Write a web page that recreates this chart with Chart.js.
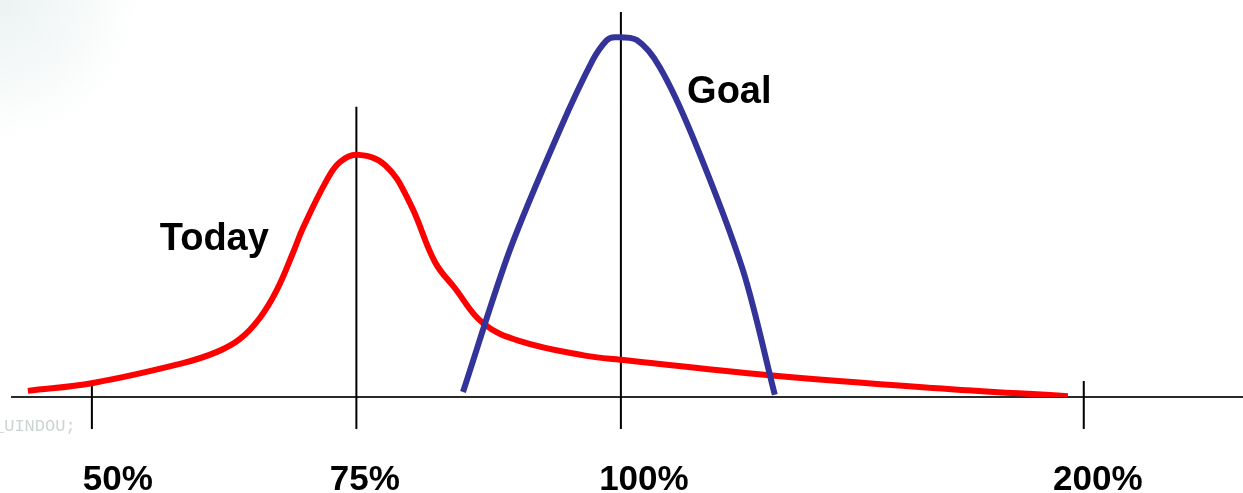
<!DOCTYPE html>
<html>
<head>
<meta charset="utf-8">
<script src="https://cdn.jsdelivr.net/npm/chart.js@4/dist/chart.umd.min.js"></script>
<style>
  html, body { margin: 0; padding: 0; background: #fff; }
  #wrap { width: 1243px; height: 493px; position: relative; }
</style>
</head>
<body>
<div id="wrap"><canvas id="myChart"></canvas></div>
<script>
// axis: 50% .. 200% (not evenly spaced in the picture)
const tickPositions = [0, 1, 2, 3.75];
const tickLabels = ['50%', '75%', '100%', '200%'];
const labelPositions = [0.098, 1.032, 2.087, 3.803];
const markerTops = [4.4, 80.4, 106.7, 4.4];
const markerBottom = -8.9;

// "Today" curve
const todayX = [-0.242, 0.004, 0.344, 0.473, 0.560, 0.635, 0.699, 0.760, 0.798, 0.888, 0.938,
  1.002, 1.108, 1.202, 1.297, 1.372, 1.478, 1.618, 1.871, 2.000, 2.552, 3.180, 3.690];
const todayY = [1.7, 3.9, 9.4, 12.5, 16.1, 21.9, 29.6, 39.9, 46.8, 60.1, 65.1,
  67.1, 64.3, 53.8, 37.4, 30.2, 20.5, 15.5, 11.4, 10.3, 6.1, 2.5, 0.2];

// "Goal" curve
const goalX = [1.403, 1.580, 1.769, 1.894, 1.947, 1.977, 2.060, 2.147, 2.272, 2.461, 2.582];
const goalY = [1.4, 40.7, 74.0, 93.4, 98.9, 99.7, 98.9, 91.4, 72.0, 35.2, 0.6];

const notes = [
  { text: 'Today', x: 0.463, y: 43.5 },
  { text: 'Goal', x: 2.410, y: 84.5 }
];

const toPoints = (xs, ys) => xs.map((x, i) => ({ x: x, y: ys[i] }));

// vertical marker lines, separated by gaps
const markerData = [];
tickPositions.forEach((p, i) => {
  markerData.push({ x: p, y: markerBottom });
  markerData.push({ x: p, y: markerTops[i] });
  markerData.push({ x: p + 0.01, y: null });
});

const backdrop = {
  id: 'backdrop',
  beforeDraw(chart) {
    const c = chart.ctx;
    c.save();
    const g = c.createRadialGradient(0, 0, 10, 0, 0, 140);
    g.addColorStop(0, 'rgba(215,228,228,0.45)');
    g.addColorStop(1, 'rgba(215,228,228,0)');
    c.fillStyle = g;
    c.fillRect(0, 0, 160, 160);
    c.fillStyle = 'rgba(150,170,165,0.5)';
    c.font = '17px "Liberation Mono", monospace';
    c.textBaseline = 'middle';
    c.fillText('_UINDOU;', -6, 426);
    c.restore();
  }
};

const curveNotes = {
  id: 'curveNotes',
  afterDatasetsDraw(chart) {
    const c = chart.ctx;
    const xs = chart.scales.x, ys = chart.scales.y;
    c.save();
    c.fillStyle = '#000';
    c.font = 'bold 38px "Liberation Sans", Arial, sans-serif';
    c.textAlign = 'center';
    c.textBaseline = 'middle';
    notes.forEach(n => {
      c.fillText(n.text, xs.getPixelForValue(n.x), ys.getPixelForValue(n.y));
    });
    c.restore();
  }
};

const ctx = document.getElementById('myChart').getContext('2d');

new Chart(ctx, {
  type: 'line',
  data: {
    datasets: [
      {
        label: 'markers',
        data: markerData,
        borderColor: '#000',
        borderWidth: 2,
        pointRadius: 0,
        spanGaps: false,
        clip: false,
        tension: 0,
        order: 3
      },
      {
        label: 'Today',
        data: toPoints(todayX, todayY),
        borderColor: '#ff0000',
        borderWidth: 6,
        pointRadius: 0,
        tension: 0.4,
        fill: false,
        order: 2
      },
      {
        label: 'Goal',
        data: toPoints(goalX, goalY),
        borderColor: '#333399',
        borderWidth: 6,
        pointRadius: 0,
        tension: 0.3,
        fill: false,
        order: 1
      }
    ]
  },
  options: {
    responsive: true,
    maintainAspectRatio: false,
    animation: false,
    layout: { padding: { left: 12, right: 0, top: 0, bottom: 0 } },
    plugins: {
      legend: { display: false },
      tooltip: { enabled: false }
    },
    scales: {
      x: {
        type: 'linear',
        min: -0.302,
        max: 4.352,
        afterFit: scale => { scale.height = 96; },
        afterBuildTicks: scale => {
          scale.ticks = labelPositions.map(v => ({ value: v }));
        },
        grid: { display: false, drawTicks: false },
        border: { display: true, color: '#2a2a2a', width: 2 },
        ticks: {
          autoSkip: false,
          maxRotation: 0,
          padding: 62,
          color: '#000',
          font: { family: '"Liberation Sans", Arial, sans-serif', size: 35, weight: 'bold' },
          callback: (v, i) => tickLabels[i]
        }
      },
      y: {
        type: 'linear',
        min: 0,
        max: 110,
        display: false
      }
    }
  },
  plugins: [backdrop, curveNotes]
});
</script>
</body>
</html>
